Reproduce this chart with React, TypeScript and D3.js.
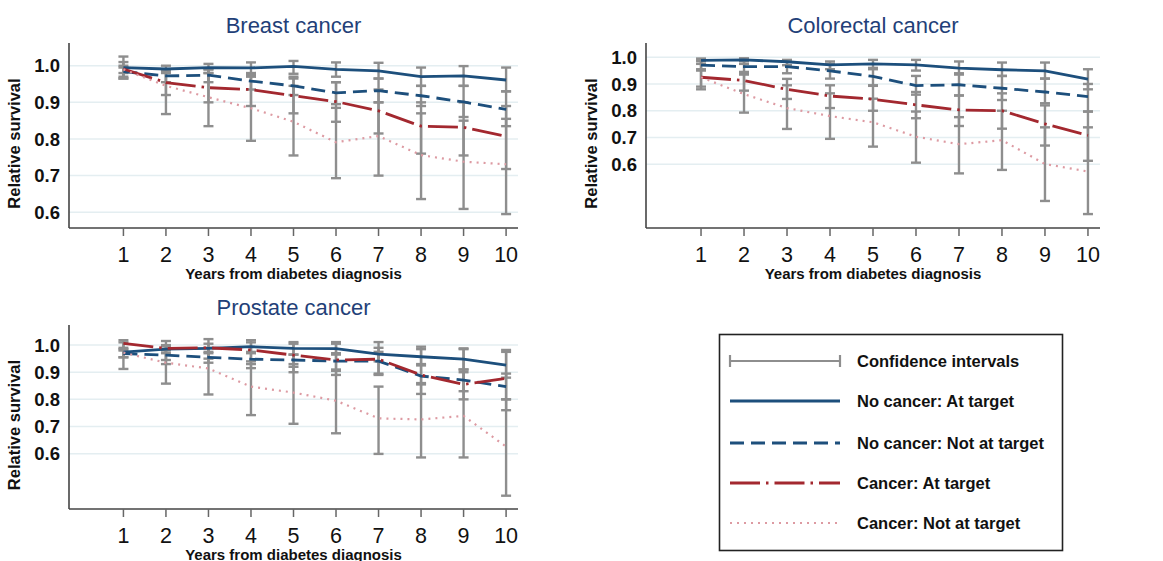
import * as d3 from "d3";

const years = [1, 2, 3, 4, 5, 6, 7, 8, 9, 10];
const yTicks = [0.6, 0.7, 0.8, 0.9, 1.0];
const seriesNames = [
  "No cancer: At target",
  "No cancer: Not at target",
  "Cancer: At target",
  "Cancer: Not at target",
];

// Breast cancer
const breastNoCancerAt = [0.995, 0.991, 0.995, 0.994, 0.998, 0.99, 0.986, 0.97, 0.972, 0.961];
const breastNoCancerNot = [0.984, 0.972, 0.974, 0.958, 0.945, 0.926, 0.932, 0.918, 0.901, 0.881];
const breastCancerAt = [0.991, 0.954, 0.94, 0.935, 0.918, 0.902, 0.877, 0.835, 0.832, 0.807];
const breastCancerNot = [0.99, 0.945, 0.914, 0.884, 0.847, 0.791, 0.808, 0.756, 0.738, 0.731];
const breastLo = [
  [0.98, 0.98, 0.98, 0.975, 0.978, 0.97, 0.965, 0.945, 0.945, 0.93],
  [0.97, 0.955, 0.955, 0.935, 0.92, 0.895, 0.9, 0.89, 0.86, 0.835],
  [0.965, 0.92, 0.9, 0.89, 0.87, 0.847, 0.815, 0.76, 0.755, 0.718],
  [0.965, 0.868, 0.835, 0.795, 0.755, 0.693, 0.7, 0.636, 0.609, 0.595],
];
const breastHi = [
  [1.0, 1.0, 1.005, 1.009, 1.013, 1.009, 1.008, 0.995, 0.999, 0.995],
  [0.995, 0.99, 0.99, 0.98, 0.97, 0.955, 0.965, 0.945, 0.945, 0.93],
  [1.01, 0.985, 0.98, 0.975, 0.965, 0.955, 0.935, 0.9, 0.9, 0.89],
  [1.025, 0.99, 0.99, 0.97, 0.945, 0.885, 0.9, 0.87, 0.85, 0.855],
];

// Colorectal cancer
const colorectalNoCancerAt = [0.988, 0.99, 0.983, 0.971, 0.975, 0.971, 0.959, 0.953, 0.949, 0.918];
const colorectalNoCancerNot = [0.97, 0.965, 0.965, 0.949, 0.928, 0.894, 0.897, 0.884, 0.87, 0.853];
const colorectalCancerAt = [0.925, 0.913, 0.88, 0.855, 0.843, 0.822, 0.803, 0.8, 0.751, 0.708];
const colorectalCancerNot = [0.925, 0.862, 0.81, 0.78, 0.757, 0.703, 0.675, 0.69, 0.601, 0.573];
const colorectalLo = [
  [0.975, 0.975, 0.97, 0.955, 0.955, 0.95, 0.935, 0.93, 0.92, 0.88],
  [0.95, 0.94, 0.94, 0.92, 0.895, 0.86, 0.857, 0.84, 0.828, 0.797],
  [0.89, 0.875, 0.844, 0.81, 0.8, 0.772, 0.743, 0.733, 0.67, 0.613],
  [0.88, 0.793, 0.732, 0.695, 0.666, 0.606, 0.566, 0.579, 0.463, 0.414],
];
const colorectalHi = [
  [0.995, 0.996, 0.99, 0.984, 0.99, 0.99, 0.984, 0.98, 0.98, 0.955],
  [0.985, 0.985, 0.985, 0.975, 0.96, 0.93, 0.94, 0.93, 0.92, 0.9],
  [0.955, 0.945, 0.919, 0.895, 0.893, 0.87, 0.857, 0.865, 0.82, 0.797],
  [0.99, 0.935, 0.895, 0.865, 0.845, 0.797, 0.776, 0.8, 0.738, 0.738],
];

// Prostate cancer
const prostateNoCancerAt = [0.974, 0.985, 0.988, 0.994, 0.988, 0.987, 0.967, 0.957, 0.948, 0.926];
const prostateNoCancerNot = [0.969, 0.963, 0.955, 0.948, 0.945, 0.941, 0.941, 0.886, 0.871, 0.847];
const prostateCancerAt = [1.006, 0.988, 0.99, 0.982, 0.963, 0.945, 0.948, 0.89, 0.855, 0.877];
const prostateCancerNot = [0.972, 0.935, 0.914, 0.847, 0.825, 0.795, 0.73, 0.726, 0.739, 0.626];
const prostateLo = [
  [0.955, 0.97, 0.97, 0.975, 0.965, 0.965, 0.94, 0.93, 0.91, 0.88],
  [0.955, 0.945, 0.935, 0.93, 0.92, 0.905, 0.895, 0.855, 0.83, 0.8],
  [0.98, 0.93, 0.95, 0.915, 0.9, 0.89, 0.89, 0.82, 0.8, 0.76],
  [0.912, 0.858, 0.818, 0.742, 0.71, 0.675, 0.599, 0.586, 0.586, 0.445],
];
const prostateHi = [
  [0.99, 1.0, 1.005, 1.01, 1.005, 1.005, 0.99, 0.985, 0.985, 0.975],
  [0.985, 0.98, 0.975, 0.97, 0.965, 0.97, 0.975, 0.925, 0.91, 0.895],
  [1.018, 1.015, 1.022, 1.018, 1.011, 1.011, 1.011, 0.994, 0.988, 0.982],
  [1.01, 0.995, 0.99, 0.94, 0.93, 0.91, 0.847, 0.86, 0.9, 0.8],
];

const styles = [
  { color: "#1d4f7c", dash: "none", width: 2.8 },
  { color: "#1d4f7c", dash: "14,7", width: 2.8 },
  { color: "#a3282f", dash: "30,6,2.5,6", width: 2.8 },
  { color: "#dd9aa2", dash: "2,5", width: 2.2 },
];

const panels = [
  {
    title: "Breast cancer",
    est: [breastNoCancerAt, breastNoCancerNot, breastCancerAt, breastCancerNot],
    lo: breastLo,
    hi: breastHi,
    box: { left: 69, right: 518, top: 43, bottom: 228 },
    yDomain: [0.557, 1.062],
  },
  {
    title: "Colorectal cancer",
    est: [colorectalNoCancerAt, colorectalNoCancerNot, colorectalCancerAt, colorectalCancerNot],
    lo: colorectalLo,
    hi: colorectalHi,
    box: { left: 646, right: 1100, top: 43, bottom: 228 },
    yDomain: [0.362, 1.053],
  },
  {
    title: "Prostate cancer",
    est: [prostateNoCancerAt, prostateNoCancerNot, prostateCancerAt, prostateCancerNot],
    lo: prostateLo,
    hi: prostateHi,
    box: { left: 69, right: 518, top: 325, bottom: 509 },
    yDomain: [0.396, 1.074],
  },
];

const FONT = "'Liberation Sans', Arial, sans-serif";
const CI_COLOR = "#8e8e8e";

function Panel({ p }) {
  const { left, right, top, bottom } = p.box;
  const x = d3.scaleLinear().domain([-0.28, 10.28]).range([left, right]);
  const y = d3.scaleLinear().domain(p.yDomain).range([bottom, top]);
  const line = d3
    .line<number>()
    .x((d, i) => x(years[i]))
    .y((d) => y(d));
  const cx = (left + right) / 2;

  return (
    <g>
      <text x={cx} y={top - 10} textAnchor="middle" fontSize={22} fill="#233f78" fontFamily={FONT}>
        {p.title}
      </text>
      {/* gridlines */}
      {yTicks.map((t) => (
        <line key={t} x1={left} x2={right} y1={y(t)} y2={y(t)} stroke="#e4eef1" strokeWidth={1.5} />
      ))}
      {yTicks.map((t) => (
        <text
          key={"l" + t}
          x={left - 9}
          y={y(t)}
          dy="0.36em"
          textAnchor="end"
          fontSize={18.5}
          fontWeight="bold"
          fontFamily={FONT}
          fill="#111"
        >
          {t.toFixed(1)}
        </text>
      ))}
      <text
        transform={`translate(${left - 49},${(top + bottom) / 2 + 8}) rotate(-90)`}
        textAnchor="middle"
        fontSize={16.5}
        fontWeight="bold"
        fontFamily={FONT}
        fill="#111"
      >
        Relative survival
      </text>
      {/* axes */}
      <line x1={left} x2={left} y1={top} y2={bottom} stroke="#444" strokeWidth={1.6} />
      <line x1={left} x2={right} y1={bottom} y2={bottom} stroke="#444" strokeWidth={1.6} />
      {years.map((yr) => (
        <g key={yr}>
          <line x1={x(yr)} x2={x(yr)} y1={bottom} y2={bottom + 8} stroke="#666" strokeWidth={1.5} />
          <text x={x(yr)} y={bottom + 34} textAnchor="middle" fontSize={21.5} fontFamily={FONT} fill="#111">
            {yr}
          </text>
        </g>
      ))}
      <text x={cx} y={bottom + 51} textAnchor="middle" fontSize={15} fontWeight="bold" fontFamily={FONT} fill="#111">
        Years from diabetes diagnosis
      </text>
      {/* confidence intervals */}
      {p.lo.map((los, s) =>
        years.map((yr, i) => {
          const xx = x(yr);
          const y1 = y(los[i]);
          const y2 = y(p.hi[s][i]);
          return (
            <g key={`ci${s}-${i}`} stroke={CI_COLOR} strokeWidth={2.4}>
              <line x1={xx} x2={xx} y1={y1} y2={y2} />
              <line x1={xx - 5} x2={xx + 5} y1={y1} y2={y1} />
              <line x1={xx - 5} x2={xx + 5} y1={y2} y2={y2} />
            </g>
          );
        })
      )}
      {/* survival lines */}
      {p.est.map((vals, s) => (
        <path
          key={"s" + s}
          d={line(vals) || ""}
          fill="none"
          stroke={styles[s].color}
          strokeWidth={styles[s].width}
          strokeDasharray={styles[s].dash}
        />
      ))}
    </g>
  );
}

function Legend() {
  const lx = 730;
  const rx = 840;
  const rows = [361, 401, 443, 483, 523];
  return (
    <g>
      <rect x={719.5} y={334.5} width={343} height={216} fill="#fff" stroke="#222" strokeWidth={1.6} />
      <g stroke={CI_COLOR} strokeWidth={2.2}>
        <line x1={lx} x2={rx} y1={rows[0]} y2={rows[0]} />
        <line x1={lx} x2={lx} y1={rows[0] - 6} y2={rows[0] + 6} />
        <line x1={rx} x2={rx} y1={rows[0] - 6} y2={rows[0] + 6} />
      </g>
      <text x={857} y={rows[0]} dy="0.36em" fontSize={16.5} fontWeight="bold" fontFamily={FONT} fill="#111">
        Confidence intervals
      </text>
      {seriesNames.map((name, s) => (
        <g key={name}>
          <line
            x1={lx}
            x2={rx}
            y1={rows[s + 1]}
            y2={rows[s + 1]}
            stroke={styles[s].color}
            strokeWidth={styles[s].width}
            strokeDasharray={styles[s].dash}
          />
          <text x={857} y={rows[s + 1]} dy="0.36em" fontSize={16.5} fontWeight="bold" fontFamily={FONT} fill="#111">
            {name}
          </text>
        </g>
      ))}
    </g>
  );
}

export default function App() {
  return (
    <svg
      width={1163}
      height={561}
      style={{ position: "absolute", left: 0, top: 0, background: "#fff" }}
    >
      {panels.map((p) => (
        <Panel key={p.title} p={p} />
      ))}
      <Legend />
    </svg>
  );
}
